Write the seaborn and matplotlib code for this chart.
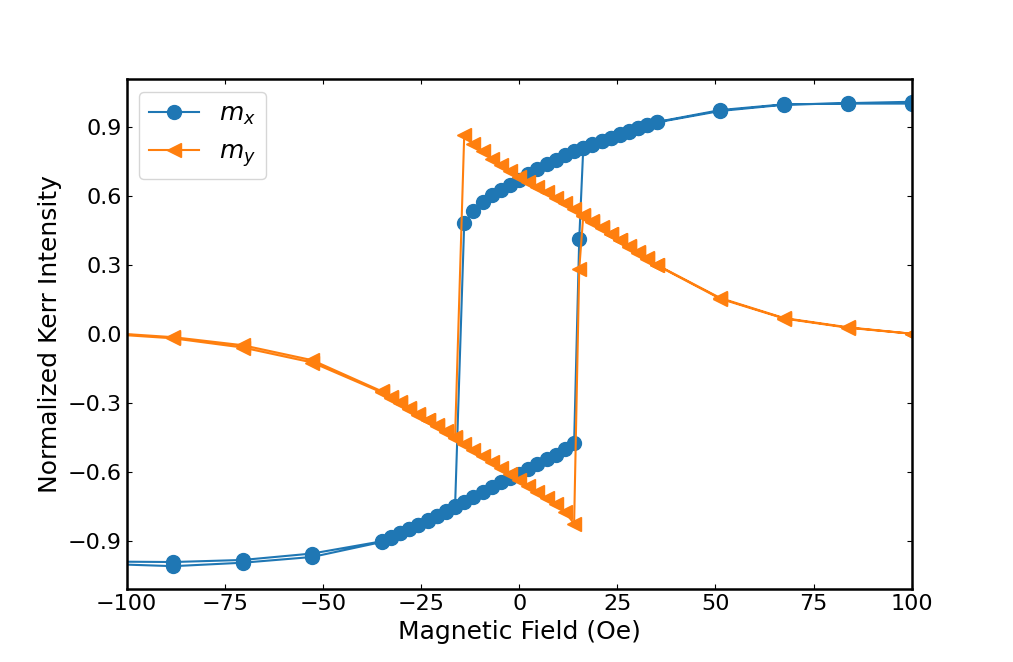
import pandas as pd
import matplotlib
matplotlib.use("Agg")
import matplotlib.pyplot as plt
import seaborn as sns

# Field sweep from +100 down to -100 (Oe)
field_down = [100, 83.75, 67.5, 51.25,
              35, 32.67, 30.33, 28, 25.67, 23.33, 21, 18.67, 16.33, 14, 11.67,
              9.33, 7, 4.67, 2.33, 0, -2.33, -4.67, -7, -9.33, -11.67, -14,
              -16.33, -18.67, -21, -23.33, -25.67, -28, -30.33, -32.67, -35,
              -52.7, -70.4, -88.1, -105.8]
mx_down = [1.000, 1.000, 0.997, 0.972,
           0.920, 0.907, 0.894, 0.880, 0.866, 0.852, 0.838, 0.823, 0.808, 0.792, 0.775,
           0.757, 0.738, 0.718, 0.695, 0.670, 0.648, 0.626, 0.603, 0.574, 0.535, 0.480,
           -0.752, -0.773, -0.793, -0.812, -0.831, -0.850, -0.868, -0.887, -0.905,
           -0.970, -0.995, -1.010, -1.000]
my_down = [0.000, 0.028, 0.068, 0.155,
           0.300, 0.327, 0.354, 0.381, 0.408, 0.435, 0.462, 0.489, 0.515, 0.541, 0.566,
           0.591, 0.615, 0.638, 0.660, 0.682, 0.706, 0.732, 0.760, 0.792, 0.826, 0.862,
           -0.449, -0.423, -0.398, -0.373, -0.348, -0.323, -0.298, -0.274, -0.250,
           -0.115, -0.050, -0.015, 0.005]

# Field sweep back up from -100 to +100 (Oe)
field_up = [-105.8, -88.1, -70.4, -52.7,
            -35, -32.67, -30.33, -28, -25.67, -23.33, -21, -18.67, -16.33, -14, -11.67,
            -9.33, -7, -4.67, -2.33, 0, 2.33, 4.67, 7, 9.33, 11.67, 14,
            15.3,
            16.33, 18.67, 21, 23.33, 25.67, 28, 30.33, 32.67, 35,
            51.25, 67.5, 83.75, 100]
mx_up = [-0.990, -0.992, -0.983, -0.955,
         -0.902, -0.885, -0.866, -0.848, -0.829, -0.810, -0.791, -0.771, -0.750, -0.729, -0.708,
         -0.687, -0.666, -0.646, -0.627, -0.608, -0.588, -0.567, -0.546, -0.525, -0.502, -0.476,
         0.410,
         0.806, 0.821, 0.836, 0.850, 0.864, 0.878, 0.892, 0.905, 0.918,
         0.968, 0.995, 1.002, 1.008]
my_up = [0.000, -0.020, -0.060, -0.125,
         -0.255, -0.278, -0.302, -0.326, -0.351, -0.376, -0.401, -0.426, -0.452, -0.478, -0.504,
         -0.530, -0.556, -0.582, -0.608, -0.634, -0.660, -0.687, -0.714, -0.742, -0.773, -0.826,
         0.280,
         0.513, 0.487, 0.460, 0.433, 0.406, 0.379, 0.352, 0.325, 0.298,
         0.152, 0.066, 0.026, 0.000]

y_ticks = [-0.9, -0.6, -0.3, 0.0, 0.3, 0.6, 0.9]

df = pd.DataFrame({
    "field": field_down + field_up,
    "mx": mx_down + mx_up,
    "my": my_down + my_up,
})

plt.rcParams["font.family"] = ["DejaVu Sans"]
plt.rcParams["font.size"] = 16

fig, ax = plt.subplots(figsize=(10.13, 6.62), dpi=100)

sns.lineplot(data=df, x="field", y="mx", sort=False, estimator=None, ax=ax,
             color="#1f77b4", marker="o", markersize=10, linewidth=1.5,
             markeredgecolor="#1f77b4", markeredgewidth=1, label="$m_x$")
sns.lineplot(data=df, x="field", y="my", sort=False, estimator=None, ax=ax,
             color="#ff7f0e", marker="<", markersize=10, linewidth=1.5,
             markeredgecolor="#ff7f0e", markeredgewidth=1, label="$m_y$")

ax.set_xlim(-100, 100)
ax.set_ylim(-1.11, 1.105)
ax.set_yticks(y_ticks)
ax.set_xlabel("Magnetic Field (Oe)", fontsize=18)
ax.set_ylabel("Normalized Kerr Intensity", fontsize=18)
ax.tick_params(direction="in", top=True, right=True, labelsize=16)
for spine in ax.spines.values():
    spine.set_linewidth(1.8)
ax.legend(loc="upper left", fontsize=18)

plt.savefig("out.png", dpi=100)
